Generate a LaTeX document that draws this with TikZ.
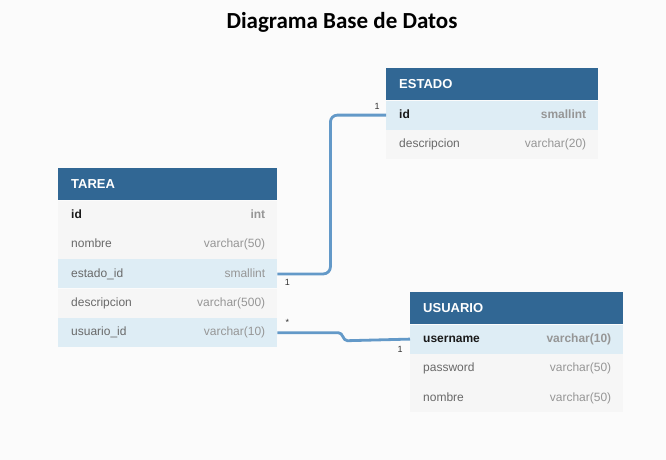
\documentclass[tikz,border=0pt]{standalone}
\usepackage{fontspec}
\setmainfont{Liberation Sans}
\newfontfamily\titlefont{Carlito}
\definecolor{hdr}{RGB}{49,103,148}
\definecolor{hl}{RGB}{222,237,245}
\definecolor{rowbg}{RGB}{246,246,246}
\definecolor{bgc}{RGB}{251,251,251}
\definecolor{fname}{RGB}{105,105,105}
\definecolor{ftype}{RGB}{150,150,150}
\definecolor{relc}{RGB}{99,153,200}
\begin{document}
\begin{tikzpicture}[x=1pt,y=-1pt,
  hdrbox/.style={fill=hdr, draw=none, minimum height=32pt, anchor=north west, inner sep=0pt},
  rowbox/.style={fill=rowbg, draw=none, minimum height=29pt, anchor=north west, inner sep=0pt},
  hlbox/.style={rowbox, fill=hl},
  hdrtxt/.style={font=\fontsize{13}{15}\selectfont\bfseries, text=white, anchor=west, inner sep=0pt, text height=9.5pt, text depth=0pt},
  fieldtxt/.style={font=\fontsize{12}{14}\selectfont, text=fname, anchor=west, inner sep=0pt, text height=9pt, text depth=2.5pt},
  keytxt/.style={fieldtxt, font=\fontsize{12}{14}\selectfont\bfseries, text=black!90},
  typetxt/.style={font=\fontsize{12}{14}\selectfont, text=ftype, anchor=east, inner sep=0pt, text height=9pt, text depth=2.5pt},
  keytype/.style={typetxt, font=\fontsize{12}{14}\selectfont\bfseries},
  rel/.style={draw=relc, line width=2.8pt},
  card/.style={font=\fontsize{9}{10}\selectfont, text=black!80, inner sep=0pt}
]
\useasboundingbox[fill=bgc] (0,0) rectangle (666,460);

\node[font=\titlefont\fontsize{23}{27}\selectfont\bfseries] (title) at (342,22) {Diagrama Base de Datos};

% TAREA
\node[hdrbox, minimum width=219pt] (tarea) at (58,168) {};
\node[hdrtxt] (tarea-h) at ([xshift=13pt]tarea.west) {TAREA};
\node[rowbox, minimum width=219pt] (t-id) at (tarea.south west) {};
\node[rowbox, minimum width=219pt] (t-nom) at (t-id.south west) {};
\node[hlbox, minimum width=219pt] (t-est) at (t-nom.south west) {};
\node[rowbox, minimum width=219pt] (t-des) at (t-est.south west) {};
\node[hlbox, minimum width=219pt] (t-usr) at (t-des.south west) {};
\node[keytxt] (t-id-n) at ([xshift=13pt]t-id.west) {id};
\node[keytype] (t-id-t) at ([xshift=-12pt]t-id.east) {int};
\node[fieldtxt] (t-nom-n) at ([xshift=13pt]t-nom.west) {nombre};
\node[typetxt] (t-nom-t) at ([xshift=-12pt]t-nom.east) {varchar(50)};
\node[fieldtxt] (t-est-n) at ([xshift=13pt]t-est.west) {estado\_id};
\node[typetxt] (t-est-t) at ([xshift=-12pt]t-est.east) {smallint};
\node[fieldtxt] (t-des-n) at ([xshift=13pt]t-des.west) {descripcion};
\node[typetxt] (t-des-t) at ([xshift=-12pt]t-des.east) {varchar(500)};
\node[fieldtxt] (t-usr-n) at ([xshift=13pt]t-usr.west) {usuario\_id};
\node[typetxt] (t-usr-t) at ([xshift=-12pt]t-usr.east) {varchar(10)};

% ESTADO
\node[hdrbox, minimum width=212pt] (estado) at (386,68) {};
\node[hdrtxt] (estado-h) at ([xshift=13pt]estado.west) {ESTADO};
\node[hlbox, minimum width=212pt] (e-id) at (estado.south west) {};
\node[rowbox, minimum width=212pt] (e-des) at (e-id.south west) {};
\node[keytxt] (e-id-n) at ([xshift=13pt]e-id.west) {id};
\node[keytype] (e-id-t) at ([xshift=-12pt]e-id.east) {smallint};
\node[fieldtxt] (e-des-n) at ([xshift=13pt]e-des.west) {descripcion};
\node[typetxt] (e-des-t) at ([xshift=-12pt]e-des.east) {varchar(20)};

% USUARIO
\node[hdrbox, minimum width=213pt] (usuario) at (410,292) {};
\node[hdrtxt] (usuario-h) at ([xshift=13pt]usuario.west) {USUARIO};
\node[hlbox, minimum width=213pt] (u-name) at (usuario.south west) {};
\node[rowbox, minimum width=213pt] (u-pass) at (u-name.south west) {};
\node[rowbox, minimum width=213pt] (u-nom) at (u-pass.south west) {};
\node[keytxt] (u-name-n) at ([xshift=13pt]u-name.west) {username};
\node[keytype] (u-name-t) at ([xshift=-12pt]u-name.east) {varchar(10)};
\node[fieldtxt] (u-pass-n) at ([xshift=13pt]u-pass.west) {password};
\node[typetxt] (u-pass-t) at ([xshift=-12pt]u-pass.east) {varchar(50)};
\node[fieldtxt] (u-nom-n) at ([xshift=13pt]u-nom.west) {nombre};
\node[typetxt] (u-nom-t) at ([xshift=-12pt]u-nom.east) {varchar(50)};

% relations
\draw[rel, rounded corners=7pt] (t-est.east) -- ++(53,0) |- (e-id.west);
\draw[rel] (t-usr.east) -- ++(61,0) to[out=0,in=180] ++(9,8) -- (u-name.west);

\node[card] (c1) at ([xshift=10pt,yshift=-9pt]t-est.east) {1};
\node[card] (c2) at ([xshift=-9pt,yshift=9pt]e-id.west) {1};
\node[card] (c3) at ([xshift=10pt,yshift=10pt]t-usr.east) {*};
\node[card] (c4) at ([xshift=-10pt,yshift=-10pt]u-name.west) {1};
\end{tikzpicture}
\end{document}
